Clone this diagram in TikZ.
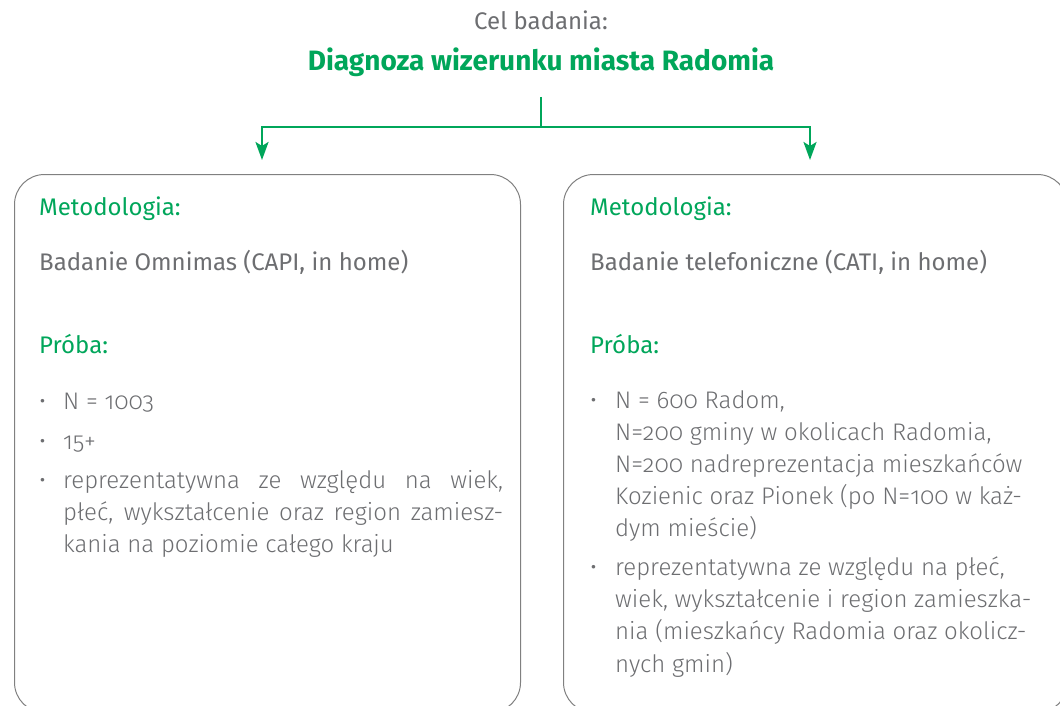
\documentclass[tikz,border=0pt]{standalone}
\usepackage{fontspec}
\setmainfont{Fira Sans}[Numbers=OldStyle]
\newfontfamily\lightfont{Fira Sans Light}[Numbers=OldStyle]
\usetikzlibrary{arrows.meta}
\definecolor{rgreen}{RGB}{0,166,90}
\definecolor{rgray}{RGB}{109,110,113}
\definecolor{rline}{RGB}{128,128,128}
\tikzset{
  txt/.style={anchor=base west, inner sep=0pt, text=rgray, font=\fontsize{24}{29}\selectfont},
  lighttxt/.style={txt, font=\lightfont\fontsize{24}{29}\selectfont},
  head/.style={txt, text=rgreen},
  panel/.style={draw=rline, line width=1pt, rounded corners=30pt, anchor=north west},
  flow/.style={draw=rgreen, line width=2.5pt, -{Stealth[length=18pt,width=13pt,inset=4pt]}}
}
\begin{document}
\begin{tikzpicture}[x=1pt,y=-1pt]
	\useasboundingbox (0,0) rectangle (1060,706);
	\node[txt, anchor=base] (goal) at (541,30) {Cel badania:};
	\node[txt, anchor=base, text=rgreen, font=\bfseries\fontsize{28}{32}\selectfont] (title) at (541,71) {Diagnoza wizerunku miasta Radomia};
	\coordinate (stem) at (541,97);
	\coordinate (fork) at (541,127);
	\coordinate (tipL) at (262,160);
	\coordinate (tipR) at (810,160);
	\draw[flow] (stem) -- (fork) -| (tipL);
	\draw[flow] (fork) -| (tipR);
	\node[panel, minimum width=506pt, minimum height=538pt] (boxL) at (14,174) {};
	\node[panel, minimum width=504pt, minimum height=538pt] (boxR) at (563,174) {};
	\node[head] (methL) at (39,215) {Metodologia:};
	\node[txt] (kindL) at (39,270) {Badanie Omnimas (CAPI, in home)};
	\node[head] (sampL) at (39,353) {Próba:};
	\node[lighttxt] (bL1) at (39,409) {\textbullet};
	\node[lighttxt] (bL2) at (39,449) {\textbullet};
	\node[lighttxt] (bL3) at (39,488) {\textbullet};
	\node[lighttxt] (iL1) at (63,409) {N = 1003};
	\node[lighttxt] (iL2) at (63,449) {15+};
	\node[lighttxt] (iL3a) at (63,488) {\makebox[440pt][s]{reprezentatywna ze względu na wiek,}};
	\node[lighttxt] (iL3b) at (63,520) {\makebox[440pt][s]{płeć, wykształcenie oraz region zamiesz-}};
	\node[lighttxt] (iL3c) at (63,552) {kania na poziomie całego kraju};
	\node[head] (methR) at (590,215) {Metodologia:};
	\node[txt] (kindR) at (590,270) {Badanie telefoniczne (CATI, in home)};
	\node[head] (sampR) at (590,353) {Próba:};
	\node[lighttxt] (bR1) at (590,408) {\textbullet};
	\node[lighttxt] (bR2) at (590,575) {\textbullet};
	\node[lighttxt] (iR1a) at (615,408) {N = 600 Radom,};
	\node[lighttxt] (iR1b) at (615,440) {N=200 gminy w okolicach Radomia,};
	\node[lighttxt] (iR1c) at (615,472) {N=200 nadreprezentacja mieszkańców};
	\node[lighttxt] (iR1d) at (615,504) {Kozienic oraz Pionek (po N=100 w każ-};
	\node[lighttxt] (iR1e) at (615,536) {dym mieście)};
	\node[lighttxt] (iR2a) at (615,575) {reprezentatywna ze względu na płeć,};
	\node[lighttxt] (iR2b) at (615,607) {wiek, wykształcenie i region zamieszka-};
	\node[lighttxt] (iR2c) at (615,639) {nia (mieszkańcy Radomia oraz okolicz-};
	\node[lighttxt] (iR2d) at (615,672) {nych gmin)};
\end{tikzpicture}
\end{document}
